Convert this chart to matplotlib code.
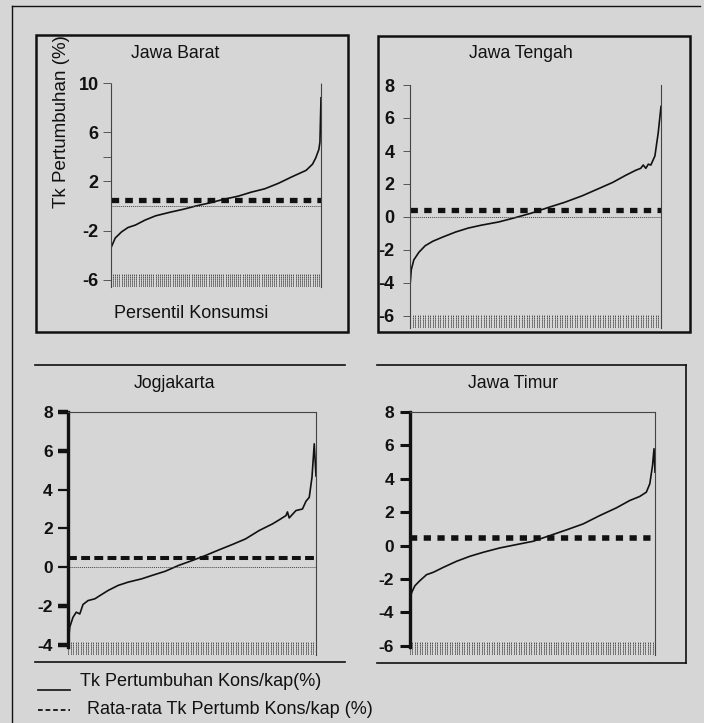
import numpy as np
import matplotlib
matplotlib.use('Agg')
import matplotlib.pyplot as plt
from matplotlib.lines import Line2D
from matplotlib.patches import Rectangle

plt.rcParams['font.family'] = ['Liberation Sans', 'DejaVu Sans']

W, H = 704, 723

# ---------------- data ----------------
regions = ['Jawa Barat', 'Jawa Tengah', 'Jogjakarta', 'Jawa Timur']
percentiles = list(range(1, 101))

pct_jabar = [1, 3, 6, 9, 12.5, 17, 22, 29, 35, 41, 48, 54, 61, 67, 73.5, 80, 86, 93, 96, 97.5, 99, 99.5, 100]
val_jabar = [-3.4, -2.6, -2.1, -1.75, -1.55, -1.15, -0.8, -0.5, -0.27, 0.0, 0.27, 0.54, 0.8, 1.12, 1.4,
             1.85, 2.35, 2.9, 3.4, 3.9, 4.6, 5.2, 8.8]

pct_jateng = [1, 1.5, 2.5, 4.5, 7, 10, 14, 19, 24, 29, 36, 42, 49, 56, 62, 69, 76, 81, 86, 90, 92, 93, 94,
              95, 96, 97.6, 98.9, 100]
val_jateng = [-4.2, -3.2, -2.6, -2.14, -1.74, -1.47, -1.21, -0.91, -0.67, -0.5, -0.3, -0.06, 0.24, 0.6,
              0.89, 1.29, 1.76, 2.1, 2.52, 2.83, 2.95, 3.15, 2.95, 3.2, 3.15, 3.7, 5.1, 6.7]

pct_jogja = [1, 1.7, 3, 4.3, 5.7, 7, 9, 11.7, 14.4, 17, 21, 25, 30.4, 34.4, 39.8, 45.1, 50.5, 55.8, 61.2,
             66.6, 71.9, 77.3, 82.6, 85.3, 88, 88.6, 89.3, 92, 94.6, 96, 97.3, 98.4, 99.3, 100]
val_jogja = [-4.04, -3.09, -2.58, -2.32, -2.41, -1.92, -1.72, -1.63, -1.41, -1.2, -0.94, -0.77, -0.6,
             -0.43, -0.21, 0.09, 0.34, 0.6, 0.89, 1.17, 1.46, 1.89, 2.23, 2.44, 2.66, 2.85, 2.54, 2.92,
             3.0, 3.4, 3.6, 4.64, 6.36, 4.7]

pct_jatim = [1, 1.7, 3, 5, 7.7, 10.4, 14.5, 19.8, 25.2, 30.6, 37.3, 44, 50.8, 57.5, 64.2, 71, 77.7, 84.4,
             89.8, 93.8, 96.5, 97.9, 99, 99.6, 100]
val_jatim = [-3.2, -2.8, -2.4, -2.1, -1.74, -1.6, -1.3, -0.94, -0.64, -0.4, -0.14, 0.06, 0.26, 0.6, 0.94,
             1.3, 1.8, 2.26, 2.7, 2.94, 3.2, 3.7, 4.8, 5.8, 4.4]

mean_growth = [0.45, 0.45, 0.46, 0.45]

yticks_jabar = [10, 6, 2, -2, -6]
yticks_jateng = [8, 6, 4, 2, 0, -2, -4, -6]
yticks_jogja = [8, 6, 4, 2, 0, -2, -4]
yticks_jatim = [8, 6, 4, 2, 0, -2, -4, -6]

legend_labels = ['Tk Pertumbuhan Kons/kap(%)', 'Rata-rata Tk Pertumb Kons/kap (%)']
ylabel_text = 'Tk Pertumbuhan (%)'
xlabel_text = 'Persentil Konsumsi'

curves = [(pct_jabar, val_jabar), (pct_jateng, val_jateng), (pct_jogja, val_jogja), (pct_jatim, val_jatim)]
yticks_all = [yticks_jabar, yticks_jateng, yticks_jogja, yticks_jatim]

# ---------------- figure ----------------
fig = plt.figure(figsize=(W / 100, H / 100), dpi=100)
fig.patch.set_facecolor('#d6d6d6')


def fx(px):
    return px / W


def fy(py):
    return 1 - py / H


def fline(x0, y0, x1, y1, lw=1.0, color='#111', ls='-'):
    fig.add_artist(Line2D([fx(x0), fx(x1)], [fy(y0), fy(y1)], transform=fig.transFigure,
                          color=color, lw=lw, linestyle=ls))


# layout per panel: x0, x1 (px), y of top limit, px per unit, ylim
layout = [
    dict(x0=111, x1=321, ytop_px=83, ppu=12.3, ylim=(-6.6, 10.0), solid_left=False, top=False,
         mlw=3.8, dash=(1.45, 1.15), zero=True, lsize=13, tlen=6, tpad=3, lbounds=None),
    dict(x0=410, x1=661, ytop_px=85, ppu=16.5, ylim=(-6.7, 8.0), solid_left=False, top=False,
         mlw=3.8, dash=(1.4, 1.2), zero=True, lsize=13, tlen=5, tpad=6, lbounds=None),
    dict(x0=68, x1=316, ytop_px=412, ppu=19.4, ylim=(-4.5, 8.0), solid_left=True, top=True,
         mlw=2.9, dash=(2.2, 1.07), zero=True, lsize=12.5, tlen=7, tpad=4, lbounds=(-4.1, 8)),
    dict(x0=410, x1=655, ytop_px=412, ppu=16.7, ylim=(-6.55, 8.0), solid_left=True, top=True,
         mlw=4.0, dash=(1.3, 1.17), zero=False, lsize=12.5, tlen=7, tpad=4.5, lbounds=(-6.1, 8)),
]

axes = []
for i, L in enumerate(layout):
    span = L['ylim'][1] - L['ylim'][0]
    ybot_px = L['ytop_px'] + span * L['ppu']
    ax = fig.add_axes([fx(L['x0']), fy(ybot_px), (L['x1'] - L['x0']) / W, (ybot_px - L['ytop_px']) / H])
    ax.set_facecolor('none')
    pct, val = curves[i]
    ax.plot(pct, val, color='#111', lw=1.2, solid_joinstyle='round')
    m = mean_growth[i]
    ml, = ax.plot([percentiles[0], percentiles[-1]], [m, m], color='#111', lw=L['mlw'],
                  dash_capstyle='butt')
    ml.set_dashes(L['dash'])
    if L['zero']:
        ax.plot([percentiles[0], percentiles[-1]], [0, 0], color='#444', lw=0.7, linestyle=(0, (1, 1)))
    # dense percentile tick marks along the bottom
    h = 13 / L['ppu']
    ax.vlines(percentiles, L['ylim'][0], L['ylim'][0] + h, colors='#333', lw=0.7,
              linestyles=(0, (1.2, 0.8)))
    ax.set_xlim(percentiles[0], percentiles[-1])
    ax.set_ylim(*L['ylim'])
    ax.set_xticks([])
    ax.set_yticks(yticks_all[i])
    ax.set_yticklabels([str(t) for t in yticks_all[i]], fontsize=L['lsize'], fontweight='bold')
    ax.spines['bottom'].set_visible(False)
    ax.spines['right'].set_linestyle((0, (1, 1)))
    ax.spines['right'].set_color('#444')
    ax.spines['right'].set_linewidth(0.8)
    if L['top']:
        ax.spines['top'].set_linestyle((0, (1, 1)))
        ax.spines['top'].set_color('#444')
        ax.spines['top'].set_linewidth(0.8)
    else:
        ax.spines['top'].set_visible(False)
    if L['solid_left']:
        ax.spines['left'].set_color('#111')
        ax.spines['left'].set_linewidth(2.4)
        ax.spines['left'].set_bounds(*L['lbounds'])
        ax.tick_params(axis='y', direction='out', length=L['tlen'], width=1.6, color='#111',
                       pad=L['tpad'], labelcolor='#111')
    else:
        ax.spines['left'].set_linestyle((0, (1, 1)))
        ax.spines['left'].set_color('#444')
        ax.spines['left'].set_linewidth(0.8)
        ax.tick_params(axis='y', direction='out', length=L['tlen'], width=0.7, color='#555',
                       pad=L['tpad'], labelcolor='#111')
    axes.append(ax)

# thicker tick marks at some levels of the Jogjakarta axis
for t in axes[2].yaxis.get_major_ticks():
    if t.get_loc() in (8, 6, -2, -4):
        t.tick1line.set_markeredgewidth(3.2)
for t in axes[3].yaxis.get_major_ticks():
    t.tick1line.set_markeredgewidth(2.2)

# extra unlabeled tick on Jawa Barat
axes[0].set_yticks([4], minor=True)
axes[0].tick_params(axis='y', which='minor', length=6, width=0.7, color='#555')

# ---------------- titles and labels ----------------
title_pos = [(175, 53), (521, 53), (174, 383), (513, 383)]
for (tx, ty), name in zip(title_pos, regions):
    fig.text(fx(tx), fy(ty), name, ha='center', va='center', fontsize=12.7, color='#111')

fig.text(fx(61), fy(122), ylabel_text, rotation=90, ha='center', va='center', fontsize=13.5, color='#111')
fig.text(fx(191), fy(313), xlabel_text, ha='center', va='center', fontsize=13, color='#111')

# ---------------- frames ----------------
fline(12, 6, 700, 6, lw=1.0)
fline(12, 6, 12, 723, lw=1.0)
for (x0, y0, x1, y1) in [(36, 35, 348, 332), (378, 36, 690, 332)]:
    fig.add_artist(Rectangle((fx(x0), fy(y1)), (x1 - x0) / W, (y1 - y0) / H, transform=fig.transFigure,
                             fill=False, edgecolor='#111', lw=1.8))
fline(35, 365, 345, 365, lw=1.2)
fline(35, 662, 345, 662, lw=1.2)
fline(377, 365, 686, 365, lw=1.2)
fline(686, 365, 686, 663, lw=1.2)
fline(377, 663, 686, 663, lw=1.2)

# ---------------- legend ----------------
fline(38, 690, 70, 690, lw=1.2)
fig.text(fx(80), fy(681), legend_labels[0], ha='left', va='center', fontsize=13, color='#111')
fig.add_artist(Line2D([fx(38), fx(70)], [fy(710), fy(710)], transform=fig.transFigure, color='#111',
                      lw=1.3, dashes=(2.6, 1.6)))
fig.text(fx(87), fy(709), legend_labels[1], ha='left', va='center', fontsize=13, color='#111')

fig.savefig('out.png', dpi=100, facecolor=fig.get_facecolor())
